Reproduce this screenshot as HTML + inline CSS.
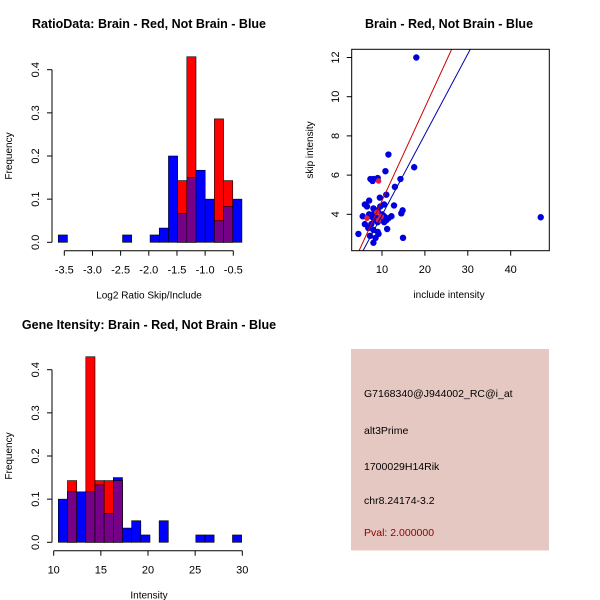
<!DOCTYPE html>
<html><head><meta charset="utf-8"><style>
body{margin:0;background:#fff}
svg{display:block;font-family:"Liberation Sans",sans-serif}
</style></head><body>
<svg id="c" width="600" height="600" viewBox="0 0 600 600">
<rect x="0" y="0" width="600" height="600" fill="#fff"/>
</svg>
<script>
// ---- Panel 1: ratio histogram ----
const ratioBinStart = -3.607;
const ratioBinWidth = 0.163;
const ratioBlue = [0.017,0,0,0,0,0,0,0.017,0,0,0.017,0.033,0.2,0.067,0.15,0.167,0.1,0.05,0.083,0.1];
const ratioRed  = [0,0,0,0,0,0,0,0,0,0,0,0,0,0.143,0.43,0,0,0.286,0.143,0];
const ratioXTicks = [-3.5,-3.0,-2.5,-2.0,-1.5,-1.0,-0.5];
const freqTicks = [0.0,0.1,0.2,0.3,0.4];
// ---- Panel 3: intensity histogram ----
const intBinStart = 10.49;
const intBinWidth = 0.972;
const intBlue = [0.1,0.117,0.117,0.117,0.133,0.067,0.15,0.033,0.05,0.017,0,0.05,0,0,0,0.017,0.017,0,0,0.017];
const intRed  = [0,0.143,0,0.43,0.143,0.143,0.143,0,0,0,0,0,0,0,0,0,0,0,0,0];
const intXTicks = [10,15,20,25,30];
// ---- Panel 2: scatter ----
const blueInc = [18,11.5,17.5,10.8,14.3,8,7.3,9,7.8,13,11,9.5,7,6,6.5,12.8,10.5,14.8,14.5,9,8,5.5,7,7.5,8,8.5,9,10,10.5,11,11.5,12.2,6,6.8,7.5,8,9,9.2,11.2,4.5,7.2,8.5,8,14.9,47,10,9.6,8.5,7.9,10.5];
const blueSkip = [12,7.05,6.4,6.2,5.8,5.8,5.8,5.85,5.7,5.4,5,4.85,4.7,4.5,4.4,4.45,4.5,4.2,4.05,4.2,4.3,3.9,4,3.9,3.8,3.7,3.6,3.8,3.9,3.7,3.8,3.9,3.5,3.3,3.5,3.2,3.1,3,3.25,3.0,2.9,2.8,2.55,2.8,3.85,4,4.4,3.9,4.0,3.6];
const redInc = [9.2,6.5,9.2,8.8,9.8];
const redSkip = [5.7,3.8,3.7,4.1,3.9];
const fitRed = [0.476,-0.07];   // slope, intercept
const fitBlue = [0.411,-0.15];
const scXTicks = [10,20,30,40];
const scYTicks = [4,6,8,10,12];

const svg = document.getElementById('c');
const NS = 'http://www.w3.org/2000/svg';
function el(tag, attrs, parent){const e=document.createElementNS(NS,tag);for(const k in attrs)e.setAttribute(k,attrs[k]);(parent||svg).appendChild(e);return e;}
function txt(x,y,s,attrs,parent){const t=el('text',Object.assign({x:x,y:y,'font-size':11,fill:'#000','text-anchor':'middle'},attrs||{}),parent);t.textContent=s;return t;}

function histogram(name, binStart, binWidth, blue, red, xTicks, xScale, yScale, xTitle, title, titleX, titleY, xLabX){
  const g = el('g',{});
  
  
  const y0 = yScale(0);
  for(let i=0;i<blue.length;i++){
    const x1=xScale(binStart+i*binWidth), x2=xScale(binStart+(i+1)*binWidth);
    const b=blue[i], r=red[i], m=Math.min(b,r);
    if(b>0){const e=el('rect',{x:x1,y:yScale(b),width:x2-x1,height:y0-yScale(b),fill:'#0000ff',stroke:'#000','stroke-width':0.6},g);
      
      }
    if(r>0){const e=el('rect',{x:x1,y:yScale(r),width:x2-x1,height:y0-yScale(r),fill:'#ff0000',stroke:'#000','stroke-width':0.6},g);
      
      }
    if(m>0){const e=el('rect',{x:x1,y:yScale(m),width:x2-x1,height:y0-yScale(m),fill:'#770088',stroke:'#000','stroke-width':0.6},g);
      
      }
  }
  const axY = 250.7 + (y0-242.3);
  const dec = xTicks.some(q=>q%1!==0)?1:0;
  const xa = el('g',{},g);
  
  
  el('line',{x1:xScale(xTicks[0]),x2:xScale(xTicks[xTicks.length-1]),y1:axY,y2:axY,stroke:'#000'},xa);
  xTicks.forEach(v=>{el('line',{x1:xScale(v),x2:xScale(v),y1:axY,y2:axY+5,stroke:'#000'},xa);
    const t=txt(xScale(v),axY+23,v.toFixed(dec),{},xa);
    
    });
  const ya = el('g',{},g);
  
  
  el('line',{x1:52,x2:52,y1:yScale(0),y2:yScale(0.4),stroke:'#000'},ya);
  freqTicks.forEach(v=>{const y=yScale(v);el('line',{x1:47,x2:52,y1:y,y2:y,stroke:'#000'},ya);
    const t=txt(39,y,v.toFixed(1),{transform:`rotate(-90 39 ${y})`},ya);
    
    });
  const yt=txt(12,(yScale(0)+yScale(0.4))/2,'Frequency',{'font-size':10,transform:`rotate(-90 12 ${(yScale(0)+yScale(0.4))/2})`},g);
  
  
  const xt=txt(xLabX,axY+48,xTitle,{'font-size':10},g);
  
  
  const tt=txt(titleX,titleY,title,{'font-weight':'bold','font-size':12.5},g);
  
  
}

histogram('ratio-histogram', ratioBinStart, ratioBinWidth, ratioBlue, ratioRed, ratioXTicks,
  v=>64.3+(v+3.5)*56.33, v=>242.3-v*431.5, 'Log2 Ratio Skip/Include',
  'RatioData: Brain - Red, Not Brain - Blue', 149, 28, 149);
histogram('intensity-histogram', intBinStart, intBinWidth, intBlue, intRed, intXTicks,
  v=>53.7+(v-10)*9.43, v=>542.3-v*431.5, 'Intensity',
  'Gene Itensity: Brain - Red, Not Brain - Blue', 149, 329, 149);

(function(){
  const sx=v=>382+(v-10)*4.29, sy=v=>214.3-(v-4)*19.6;
  const g=el('g',{});
  
  
  const defs=el('clipPath',{id:'clip'},g);el('rect',{x:351.7,y:49.3,width:197.6,height:201.4},defs);
  const pts=el('g',{'clip-path':'url(#clip)'},g);
  for(let i=0;i<blueInc.length;i++){const c=el('circle',{cx:sx(blueInc[i]),cy:sy(blueSkip[i]),r:3.2,fill:'#0000dd'},pts);
    
    }
  for(let i=0;i<redInc.length;i++){const c=el('circle',{cx:sx(redInc[i]),cy:sy(redSkip[i]),r:2.8,fill:'#dd2244'},pts);
    
    }
  [[fitRed,'#cc0000','red-fit-line'],[fitBlue,'#0000aa','blue-fit-line']].forEach(([f,col,n])=>{
    const l=el('line',{x1:sx(0),y1:sy(f[1]),x2:sx(50),y2:sy(f[1]+f[0]*50),stroke:col,'stroke-width':1},pts);
    
    });
  el('rect',{x:351.7,y:49.3,width:197.6,height:201.4,fill:'none',stroke:'#000'},g);
  scXTicks.forEach(v=>{el('line',{x1:sx(v),x2:sx(v),y1:250.7,y2:255.7,stroke:'#000'},g);
    const t=txt(sx(v),273,String(v),{},g);
    
    });
  scYTicks.forEach(v=>{const y=sy(v);el('line',{x1:346.7,x2:351.7,y1:y,y2:y,stroke:'#000'},g);
    const t=txt(339,y,String(v),{transform:`rotate(-90 339 ${y})`},g);
    
    });
  const xt=txt(449,298,'include intensity',{'font-size':10},g);
  
  
  const yt=txt(313,150,'skip intensity',{'font-size':10,transform:'rotate(-90 313 150)'},g);
  
  
  const tt=txt(449,28,'Brain - Red, Not Brain - Blue',{'font-weight':'bold','font-size':12.5},g);
  
  
})();

(function(){
  const g=el('g',{});
  
  
  el('rect',{x:351,y:349,width:198,height:201.5,fill:'#e6c8c2'},g);
  const lines=[['G7168340@J944002_RC@i_at',397,'#000','probe-id'],['alt3Prime',434,'#000','event-type'],['1700029H14Rik',470,'#000','gene-name'],['chr8.24174-3.2',504,'#000','location'],['Pval: 2.000000',536,'#8b0000','p-value']];
  lines.forEach(([s,y,c,n])=>{const t=txt(364,y,s,{'text-anchor':'start',fill:c,'font-size':10.5},g);
    
    });
})();
</script>
</body></html>
